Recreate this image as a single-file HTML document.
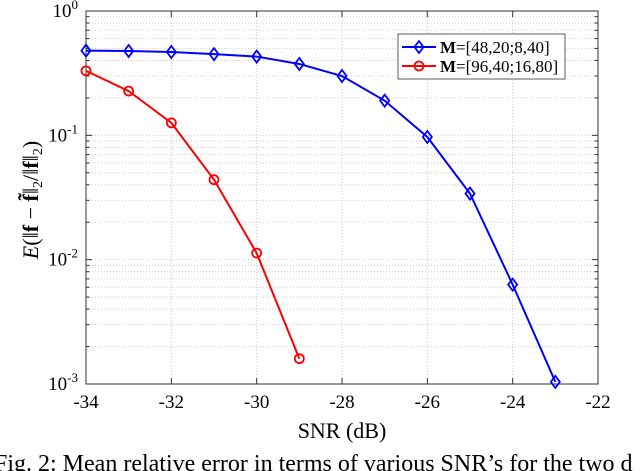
<!DOCTYPE html>
<html><head><meta charset="utf-8"><style>
body{margin:0;background:#fff;width:640px;height:471px;overflow:hidden;font-family:"Liberation Serif",serif}
svg{display:block}
</style></head><body>
<svg width="640" height="471" id="c">
<g id="grid"></g><g id="axes"></g><g id="series"></g>
<text x="342" y="438" font-size="22" text-anchor="middle">SNR (dB)</text>
<text transform="translate(38,200) rotate(-90)" font-size="22" text-anchor="middle"><tspan font-style="italic">E</tspan>(‖<tspan font-weight="bold">f</tspan> − <tspan font-weight="bold">f̃</tspan>‖<tspan font-size="14" dy="4">2</tspan><tspan dy="-4">/‖</tspan><tspan font-weight="bold">f</tspan>‖<tspan font-size="14" dy="4">2</tspan><tspan dy="-4">)</tspan></text>
<text x="-6" y="471" font-size="24">Fig. 2: Mean relative error in terms of various SNR’s for the two d</text>
<g>
<rect x="398" y="34" width="167" height="45" fill="#fff" stroke="#333" stroke-width="0.8"/>
<line x1="402" y1="47" x2="436" y2="47" stroke="#00f" stroke-width="2"/>
<path d="M419 41 L423.5 47 L419 53 L414.5 47Z" fill="none" stroke="#00f" stroke-width="1.8"/>
<text x="440" y="53" font-size="17"><tspan font-weight="bold">M</tspan>=[48,20;8,40]</text>
<line x1="402" y1="66" x2="436" y2="66" stroke="#f00" stroke-width="2"/>
<circle cx="419" cy="66" r="4.5" fill="none" stroke="#f00" stroke-width="1.8"/>
<text x="440" y="72" font-size="17"><tspan font-weight="bold">M</tspan>=[96,40;16,80]</text>
</g>
</svg>
<script>
const xTicks=[-34,-32,-30,-28,-26,-24,-22];
const blueX=[-34,-33,-32,-31,-30,-29,-28,-27,-26,-25,-24,-23];
const blueY=[0.48,0.477,0.468,0.45,0.43,0.375,0.30,0.19,0.097,0.034,0.0063,0.00104];
const redX=[-34,-33,-32,-31,-30,-29];
const redY=[0.33,0.227,0.126,0.044,0.0113,0.0016];
const L=86,R=598,T=11,B=384;
const xs=v=>L+(v+34)/12*(R-L);
const ys=v=>T+(-Math.log10(v))/3*(B-T);
const NS="http://www.w3.org/2000/svg";
function mk(tag,attrs,parent){const e=document.createElementNS(NS,tag);for(const k in attrs)e.setAttribute(k,attrs[k]);document.getElementById(parent).appendChild(e);return e;}
xTicks.forEach(t=>{if(t>-34&&t<-22){const g=mk('line',{x1:xs(t),x2:xs(t),y1:T,y2:B,stroke:'#ccc','stroke-dasharray':'1,2'},'grid');

}});
for(let d=-3;d<0;d++){for(let m=1;m<10;m++){const v=m*Math.pow(10,d);const y=ys(v);if(y<=T||y>=B)continue;
const g=mk('line',{x1:L,x2:R,y1:y,y2:y,stroke:'#ccc','stroke-dasharray':'1,2'},'grid');


mk('line',{x1:L,x2:L+(m==1?6:3.5),y1:y,y2:y,stroke:'#333'},'axes');
mk('line',{x1:R,x2:R-(m==1?6:3.5),y1:y,y2:y,stroke:'#333'},'axes');}}
const fr=mk('rect',{x:L,y:T,width:R-L,height:B-T,fill:'none',stroke:'#333','stroke-width':1},'axes');


xTicks.forEach(t=>{const x=xs(t);mk('line',{x1:x,x2:x,y1:B,y2:B-6,stroke:'#333'},'axes');mk('line',{x1:x,x2:x,y1:T,y2:T+6,stroke:'#333'},'axes');
const tx=mk('text',{x:x,y:B+24,'font-size':19,'text-anchor':'middle'},'axes');tx.textContent=t;

});
[0,-1,-2,-3].forEach(e=>{const y=ys(Math.pow(10,e));
const tx=mk('text',{x:L-8,y:y+6,'font-size':19,'text-anchor':'end'},'axes');
tx.innerHTML='10<tspan font-size="13" dy="-8">'+e+'</tspan>';

});
function series(X,Y,col,marker,name){
const pl=mk('polyline',{points:X.map((x,i)=>xs(x)+','+ys(Y[i])).join(' '),fill:'none',stroke:col,'stroke-width':2},'series');


X.forEach((x,i)=>{const cx=xs(x),cy=ys(Y[i]);let m;
if(marker=='d')m=mk('path',{d:`M${cx} ${cy-6}L${cx+4.5} ${cy}L${cx} ${cy+6}L${cx-4.5} ${cy}Z`,fill:'none',stroke:col,'stroke-width':1.8},'series');
else m=mk('circle',{cx:cx,cy:cy,r:4.5,fill:'none',stroke:col,'stroke-width':1.8},'series');

});}
series(blueX,blueY,'#00f','d','blue-series');
series(redX,redY,'#f00','o','red-series');
</script>
</body></html>
